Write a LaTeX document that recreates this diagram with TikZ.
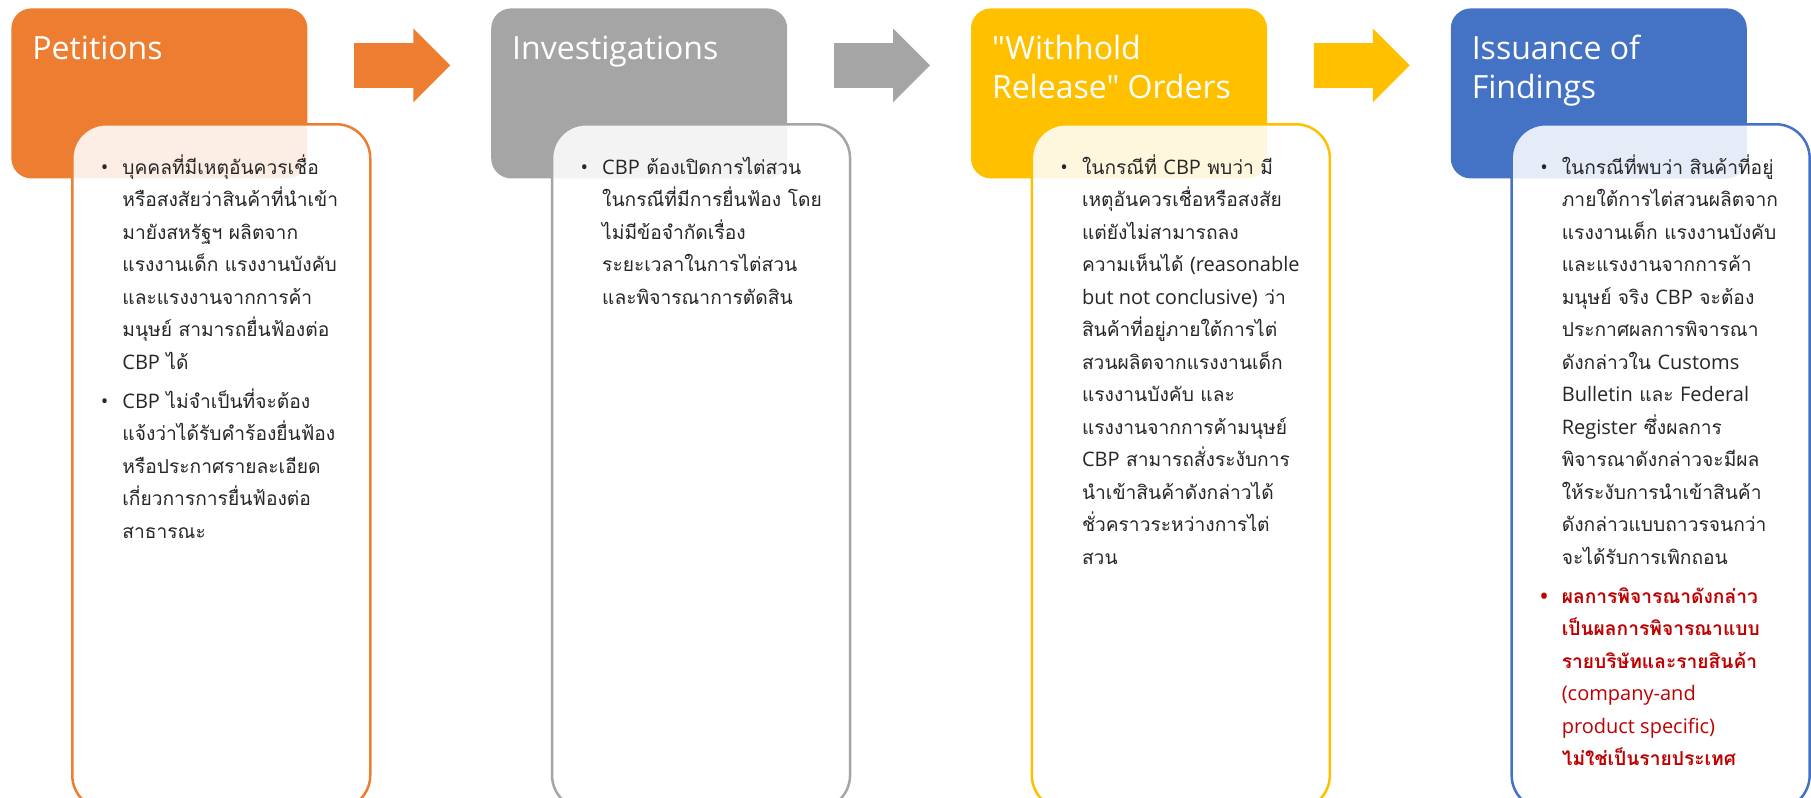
\documentclass[tikz,border=0pt]{standalone}
\usepackage{fontspec}
\setmainfont{Open Sans}
\newfontfamily\thai[Script=Thai,Scale=0.96]{Loma}
\newfontfamily\latinfont{Open Sans}
\newfontfamily\titlefont{Open Sans}[Ligatures=TeXOff]
\newcommand\eng[1]{{\latinfont #1}}
\newcommand\bodyfont{\thai\fontsize{10}{16.25}\selectfont\lineskiplimit=-20pt\relax}
\usepackage{tikz}
\usetikzlibrary{shapes.arrows,positioning,calc}
\definecolor{petorange}{HTML}{ED7D31}
\definecolor{invgray}{HTML}{A5A5A5}
\definecolor{wroyellow}{HTML}{FFC000}
\definecolor{findblue}{HTML}{4472C4}
\definecolor{notered}{HTML}{C00000}
\definecolor{bodytext}{HTML}{262626}

\begin{document}
\begin{tikzpicture}[
  x=1pt, y=1pt,
  head/.style={rectangle, rounded corners=10pt, minimum width=148pt, minimum height=85pt, inner sep=0pt},
  title/.style={anchor=north west, inner sep=0pt, align=left, text=white, font=\titlefont\fontsize{16}{19.5}\selectfont},
  card/.style={rectangle, rounded corners=17pt, minimum width=149pt, minimum height=342.5pt, inner sep=0pt, fill=white, fill opacity=0.87, line width=1.25pt},
  body/.style={anchor=north west, inner sep=0pt, align=left, text=bodytext, font=\bodyfont},
  note/.style={body, text=notered, font=\bodyfont\bfseries},
  flow/.style={single arrow, single arrow head extend=7.25pt, minimum height=48pt, minimum width=36.5pt, inner xsep=0pt, inner ysep=11pt}
]
\useasboundingbox (0,0) rectangle (905.5,-399);

% stage headers
\node[head, fill=petorange, anchor=north west] (h1) at (5.5,-4) {};
\node[head, fill=invgray, right=91.5pt of h1] (h2) {};
\node[head, fill=wroyellow, right=91.5pt of h2] (h3) {};
\node[head, fill=findblue, right=91.5pt of h3] (h4) {};

\node[title] (t1) at ($(h1.north west)+(10.5,-11.5)$) {\rule{0pt}{14pt}Petitions};
\node[title] (t2) at ($(h2.north west)+(10.5,-11.5)$) {\rule{0pt}{14pt}Investigations};
\node[title] (t3) at ($(h3.north west)+(10.5,-11.5)$) {\rule{0pt}{14pt}"Withhold\\Release" Orders};
\node[title] (t4) at ($(h4.north west)+(10.5,-11.5)$) {\rule{0pt}{14pt}Issuance of\\Findings};

% block arrows
\node[flow, fill=petorange, right=23pt of h1.east, yshift=14pt] (a1) {};
\node[flow, fill=invgray, right=23pt of h2.east, yshift=14pt] (a2) {};
\node[flow, fill=wroyellow, right=23pt of h3.east, yshift=14pt] (a3) {};

% detail cards
\node[card, draw=petorange, below right=57.5pt and 30pt of h1.north west] (b1) {};
\node[card, draw=invgray, below right=57.5pt and 30pt of h2.north west] (b2) {};
\node[card, draw=wroyellow, below right=57.5pt and 30pt of h3.north west] (b3) {};
\node[card, draw=findblue, below right=57.5pt and 30pt of h4.north west] (b4) {};

\node[body] (p1) at ($(b1.north west)+(25.5,-11.5)$) {\rule{0pt}{14pt}\llap{\eng{\textbullet}\hspace{7pt}}บุคคลที่มีเหตุอันควรเชื่อ\\
หรือสงสัยว่าสินค้าที่นำเข้า\\
มายังสหรัฐฯ ผลิตจาก\\
แรงงานเด็ก แรงงานบังคับ\\
และแรงงานจากการค้า\\
มนุษย์ สามารถยื่นฟ้องต่อ\\
\eng{CBP} ได้\\[3.25pt]
\llap{\eng{\textbullet}\hspace{7pt}}\eng{CBP} ไม่จำเป็นที่จะต้อง\\
แจ้งว่าได้รับคำร้องยื่นฟ้อง\\
หรือประกาศรายละเอียด\\
เกี่ยวการการยื่นฟ้องต่อ\\
สาธารณะ};

\node[body] (p2) at ($(b2.north west)+(25.5,-11.5)$) {\rule{0pt}{14pt}\llap{\eng{\textbullet}\hspace{7pt}}\eng{CBP} ต้องเปิดการไต่สวน\\
ในกรณีที่มีการยื่นฟ้อง โดย\\
ไม่มีข้อจำกัดเรื่อง\\
ระยะเวลาในการไต่สวน\\
และพิจารณาการตัดสิน};

\node[body] (p3) at ($(b3.north west)+(25.5,-11.5)$) {\rule{0pt}{14pt}\llap{\eng{\textbullet}\hspace{7pt}}ในกรณีที่ \eng{CBP} พบว่า มี\\
เหตุอันควรเชื่อหรือสงสัย\\
แต่ยังไม่สามารถลง\\
ความเห็นได้ \eng{(reasonable}\\
\eng{but not conclusive)} ว่า\\
สินค้าที่อยู่ภายใต้การไต่\\
สวนผลิตจากแรงงานเด็ก\\
แรงงานบังคับ และ\\
แรงงานจากการค้ามนุษย์\\
\eng{CBP} สามารถสั่งระงับการ\\
นำเข้าสินค้าดังกล่าวได้\\
ชั่วคราวระหว่างการไต่\\
สวน};

\node[body] (p4) at ($(b4.north west)+(25.5,-11.5)$) {\rule{0pt}{14pt}\llap{\eng{\textbullet}\hspace{7pt}}ในกรณีที่พบว่า สินค้าที่อยู่\\
ภายใต้การไต่สวนผลิตจาก\\
แรงงานเด็ก แรงงานบังคับ\\
และแรงงานจากการค้า\\
มนุษย์ จริง \eng{CBP} จะต้อง\\
ประกาศผลการพิจารณา\\
ดังกล่าวใน \eng{Customs}\\
\eng{Bulletin} และ \eng{Federal}\\
\eng{Register} ซึ่งผลการ\\
พิจารณาดังกล่าวจะมีผล\\
ให้ระงับการนำเข้าสินค้า\\
ดังกล่าวแบบถาวรจนกว่า\\
จะได้รับการเพิกถอน};

\node[note] (p4r) at ($(b4.north west)+(25.5,-226)$) {\rule{0pt}{14pt}\llap{\eng{\textbullet}\hspace{7pt}}ผลการพิจารณาดังกล่าว\\
เป็นผลการพิจารณาแบบ\\
รายบริษัทและรายสินค้า\\
\eng{\mdseries (company-and}\\
\eng{\mdseries product specific)}\\
ไม่ใช่เป็นรายประเทศ};
\end{tikzpicture}
\end{document}
